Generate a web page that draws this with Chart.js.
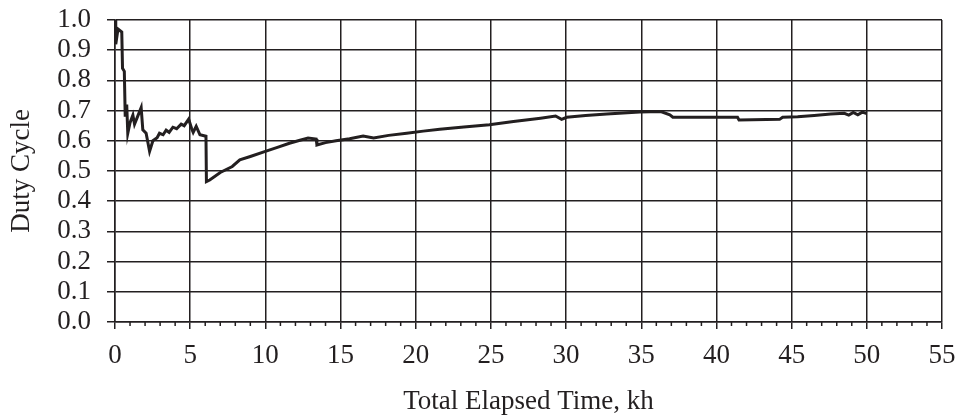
<!DOCTYPE html>
<html>
<head>
<meta charset="utf-8">
<script src="https://cdn.jsdelivr.net/npm/chart.js@4/dist/chart.umd.min.js"></script>
<style>
  html, body { margin: 0; padding: 0; background: #fff; }
  #wrap { width: 958px; height: 420px; }
</style>
</head>
<body>
<div id="wrap"><canvas id="dutyChart" width="958" height="420"></canvas></div>
<script>
// Elapsed time (kh) and duty cycle
const timeKh = [
  0.0, 0.05, 0.2, 0.45, 0.5, 0.62, 0.68, 0.78, 0.85, 1.0,
  1.19, 1.3, 1.5, 1.74, 1.85, 2.07, 2.3, 2.52, 2.8, 2.96,
  3.2, 3.4, 3.6, 3.85, 4.1, 4.4, 4.6, 4.9, 5.1, 5.2,
  5.4, 5.65, 6.05, 6.08, 6.3, 7.0, 7.8, 8.3, 9.0, 9.95,
  10.8, 11.6, 12.3, 12.84, 13.38, 13.43, 14.0, 14.7, 15.6, 16.5,
  17.2, 18.2, 19.4, 20.5, 21.6, 23.2, 24.9, 26.5, 28.3, 29.3,
  29.7, 30.04, 31.3, 32.7, 34.9, 36.3, 36.9, 37.1, 41.4, 41.5,
  44.2, 44.4, 45.4, 46.5, 47.6, 48.5, 48.8, 49.1, 49.4, 49.7, 50.0
];
const dutyCycle = [
  1.0, 0.92, 0.97, 0.96, 0.84, 0.83, 0.68, 0.72, 0.625, 0.66,
  0.685, 0.655, 0.68, 0.71, 0.636, 0.625, 0.565, 0.6, 0.61, 0.625,
  0.62, 0.635, 0.628, 0.645, 0.64, 0.655, 0.65, 0.672, 0.64, 0.628,
  0.648, 0.62, 0.615, 0.465, 0.47, 0.495, 0.515, 0.537, 0.548, 0.564,
  0.578, 0.592, 0.602, 0.609, 0.606, 0.586, 0.594, 0.6, 0.607, 0.616,
  0.609, 0.618, 0.625, 0.632, 0.638, 0.646, 0.653, 0.664, 0.675, 0.682,
  0.671, 0.678, 0.684, 0.689, 0.695, 0.697, 0.686, 0.678, 0.678, 0.669,
  0.671, 0.678, 0.68, 0.684, 0.689, 0.691, 0.685, 0.694, 0.686, 0.695, 0.69
];

const xMin = 0, xMax = 55, xStep = 5;
const yMin = 0, yMax = 1, yStep = 0.1;
const xTitle = 'Total Elapsed Time, kh';
const yTitle = 'Duty Cycle';

const ink = '#231f20';
const fontFamily = '"Liberation Serif", "Times New Roman", serif';
const fontSize = 27;

// small 1 kh ticks under the x axis
const minorTicks = {
  id: 'minorTicks',
  afterDraw(chart) {
    const x = chart.scales.x;
    const ctx = chart.ctx;
    ctx.save();
    ctx.strokeStyle = ink;
    ctx.lineWidth = 1.5;
    for (let v = xMin; v <= xMax; v++) {
      if (v % xStep === 0) continue;
      const px = x.getPixelForValue(v);
      ctx.beginPath();
      ctx.moveTo(px, x.top);
      ctx.lineTo(px, x.top + 4);
      ctx.stroke();
    }
    ctx.restore();
  }
};

const points = timeKh.map((t, i) => ({ x: t, y: dutyCycle[i] }));

new Chart(document.getElementById('dutyChart'), {
  type: 'scatter',
  data: {
    datasets: [{
      data: points,
      showLine: true,
      borderColor: ink,
      borderWidth: 3,
      pointRadius: 0,
      tension: 0,
      fill: false
    }]
  },
  options: {
    responsive: false,
    animation: false,
    layout: { padding: { top: 20, right: 16, left: 0, bottom: 2 } },
    plugins: { legend: { display: false }, tooltip: { enabled: false } },
    scales: {
      x: {
        type: 'linear',
        min: xMin,
        max: xMax,
        ticks: { stepSize: xStep, color: ink, padding: 11, maxRotation: 0,
                 font: { family: fontFamily, size: fontSize } },
        grid: { color: ink, lineWidth: 1.5, tickLength: 7, tickColor: ink },
        border: { color: ink, width: 1.5 },
        title: { display: true, text: xTitle, color: ink, padding: { top: 14, bottom: 0 },
                 font: { family: fontFamily, size: fontSize } },
        afterFit(scale) {
          scale.height = 96;
          scale.paddingLeft = 0;
          scale.paddingRight = 0;
        }
      },
      y: {
        min: yMin,
        max: yMax,
        ticks: { stepSize: yStep, color: ink, padding: 16, autoSkip: false,
                 font: { family: fontFamily, size: fontSize },
                 callback: v => Number(v).toFixed(1) },
        grid: { color: ink, lineWidth: 1.5, tickLength: 8, tickColor: ink },
        border: { color: ink, width: 1.5 },
        title: { display: true, text: yTitle, color: ink, padding: { top: 6, bottom: 0 },
                 font: { family: fontFamily, size: fontSize } },
        afterFit(scale) {
          scale.width = 115;
          scale.paddingTop = 0;
          scale.paddingBottom = 0;
        }
      }
    }
  },
  plugins: [minorTicks]
});
</script>
</body>
</html>
